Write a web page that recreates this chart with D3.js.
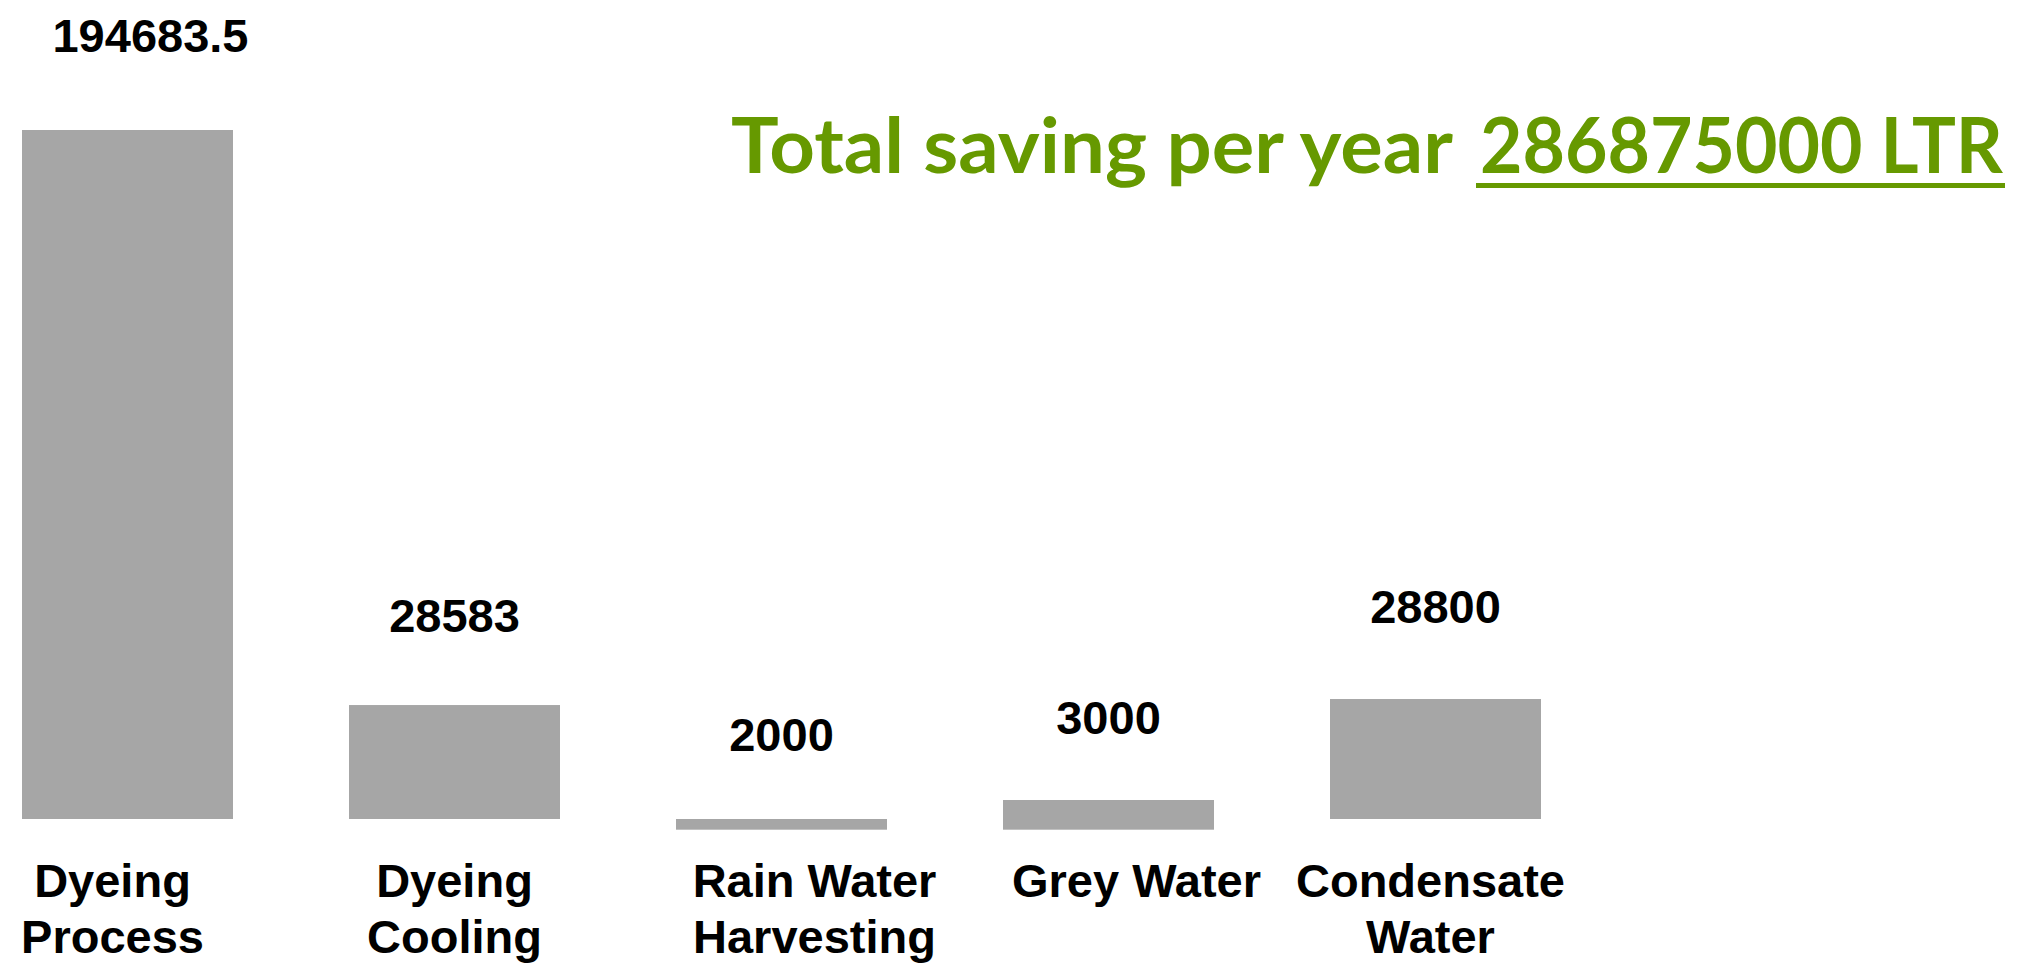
<!DOCTYPE html>
<html>
<head>
<meta charset="utf-8">
<script src="https://cdn.jsdelivr.net/npm/d3@7"></script>
<style>
  html, body { margin: 0; padding: 0; background: #ffffff; }
  svg { display: block; }
</style>
</head>
<body>
<script>
// ---- data ----
const categories = [["Dyeing", "Process"], ["Dyeing", "Cooling"], ["Rain Water", "Harvesting"], ["Grey Water"], ["Condensate", "Water"]];
const valueLabels = ["194683.5", "28583", "2000", "3000", "28800"];
// bar extents as drawn in the picture, in value units of the chart's axis
const barTop = [194683.5, 32200, 0, 5370, 33900];
const barBottom = [0, 0, -3020, -3020, 0];
const titleText = "Total saving per year";
const titleValue = "286875000 LTR";

// ---- drawing ----
const W = 2022, H = 964;
const svg = d3.select("body").append("svg").attr("width", W).attr("height", H);

const keys = categories.map(c => c.join(" "));
const x = d3.scaleBand().domain(keys).range([22, 1541]).paddingInner(116 / 327).paddingOuter(0);
const y = d3.scaleLinear().domain([0, 194683.5]).range([819, 130]);

const rows = keys.map((k, i) => ({ k, lines: categories[i], label: valueLabels[i], top: barTop[i], bottom: barBottom[i] }));

svg.append("g").selectAll("rect").data(rows).join("rect")
  .attr("x", d => x(d.k))
  .attr("width", x.bandwidth())
  .attr("y", d => y(d.top))
  .attr("height", d => y(d.bottom) - y(d.top))
  .attr("fill", "#a6a6a6");

// value labels
const valueGap = [78, 73, 68, 66, 76];
const valueDx = [23, 0, 0, 0, 0];
svg.append("g").selectAll("text").data(rows).join("text")
  .attr("x", (d, i) => x(d.k) + x.bandwidth() / 2 + valueDx[i])
  .attr("y", (d, i) => y(Math.max(d.top, 0)) - valueGap[i] + (d.top === 0 ? 0 : 0))
  .attr("text-anchor", "middle")
  .attr("font-family", "'Liberation Sans', Arial, sans-serif")
  .attr("font-weight", "bold")
  .attr("font-size", 47)
  .attr("fill", "#000")
  .text(d => d.label);

// category labels
const catDx = [-15, 0, 33, 28, -5];
const catG = svg.append("g").selectAll("text").data(rows).join("text")
  .attr("x", (d, i) => x(d.k) + x.bandwidth() / 2 + catDx[i])
  .attr("y", 897)
  .attr("text-anchor", "middle")
  .attr("font-family", "'Liberation Sans', Arial, sans-serif")
  .attr("font-weight", "bold")
  .attr("font-size", 47)
  .attr("fill", "#000");
catG.selectAll("tspan").data((d, i) => d.lines.map(l => ({ l, cx: x(d.k) + x.bandwidth() / 2 + catDx[i] })))
  .join("tspan")
  .attr("x", d => d.cx)
  .attr("dy", (d, j) => j === 0 ? 0 : 56)
  .text(d => d.l);

// title
const green = "#669900";
svg.append("text")
  .attr("x", 731).attr("y", 173)
  .attr("font-family", "Lato, 'Open Sans', sans-serif")
  .attr("font-weight", "bold")
  .attr("font-size", 76)
  .attr("fill", green)
  .attr("textLength", 722)
  .attr("lengthAdjust", "spacingAndGlyphs")
  .text(titleText);
svg.append("text")
  .attr("x", 1480).attr("y", 173)
  .attr("font-family", "Lato, 'Open Sans', sans-serif")
  .attr("font-weight", "bold")
  .attr("font-size", 76)
  .attr("fill", green)
  .attr("textLength", 523)
  .attr("lengthAdjust", "spacingAndGlyphs")
  .text(titleValue);
svg.append("rect")
  .attr("x", 1476).attr("y", 183)
  .attr("width", 529).attr("height", 5)
  .attr("fill", green);
</script>
</body>
</html>
